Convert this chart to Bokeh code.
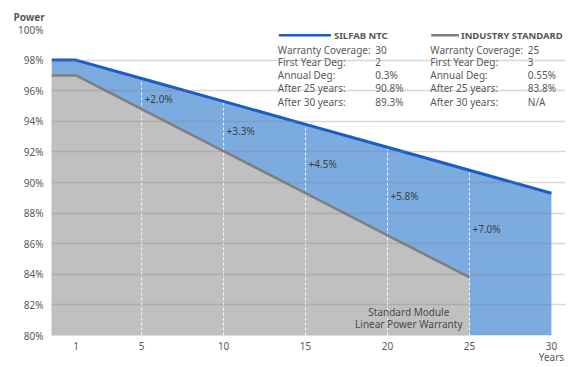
from bokeh.plotting import figure
from bokeh.models import Label, FixedTicker, Range1d
from bokeh.core.properties import value
from bokeh.embed import file_html
from bokeh.resources import INLINE

# ---- data ----
silfab_years = [0, 1, 5, 10, 15, 20, 25, 30]
silfab_power = [98.0, 98.0, 96.8, 95.3, 93.8, 92.3, 90.8, 89.3]
industry_years = [0, 1, 5, 10, 15, 20, 25]
industry_power = [97.0, 97.0, 94.8, 92.05, 89.3, 86.55, 83.8]
marker_years = [5, 10, 15, 20, 25]
gap_labels = ["+2.0%", "+3.3%", "+4.5%", "+5.8%", "+7.0%"]
x_ticks = [1, 5, 10, 15, 20, 25, 30]
x_tick_labels = ["1", "5", "10", "15", "20", "25", "30\nYears"]
y_ticks = [80, 82, 84, 86, 88, 90, 92, 94, 96, 98, 100]
y_tick_labels = ["80%", "82%", "84%", "86%", "88%", "90%", "92%", "94%", "96%", "98%", "100%"]
table_labels = ["Warranty Coverage:", "First Year Deg:", "Annual Deg:", "After 25 years:", "After 30 years:"]
silfab_values = ["30", "2", "0.3%", "90.8%", "89.3%"]
industry_values = ["25", "3", "0.55%", "83.8%", "N/A"]
series_names = ["SILFAB NTC", "INDUSTRY STANDARD"]

FONT = "Noto Sans"
TXT = "#595959"
BLUE_FILL = "#7babdf"
BLUE_LINE = "#1a5cc8"
GRAY_FILL = "#c0c0c0"
GRAY_LINE = "#7f7f7f"
X0 = -0.5
Y0 = 80

p = figure(width=573, height=367, output_backend="svg", toolbar_location=None,
           x_range=Range1d(X0, 30.86), y_range=Range1d(80, 100),
           min_border_left=51, min_border_right=8, min_border_top=29, min_border_bottom=29)
p.outline_line_color = None
p.background_fill_color = "white"

# "Power" title above the y labels
p.title.text = "Power"
p.title.align = "left"
p.title.offset = -38
p.title.text_font = FONT
p.title.text_font_size = "10px"
p.title.text_font_style = "bold"
p.title.text_color = TXT
p.title.text_line_height = 0.9
p.title.standoff = 12

# areas
sx = [X0] + silfab_years
sy = [silfab_power[0]] + silfab_power
ix = [X0] + industry_years
iy = [industry_power[0]] + industry_power
p.varea(x=sx, y1=[Y0] * len(sx), y2=sy, fill_color=BLUE_FILL)
p.varea(x=ix, y1=[Y0] * len(ix), y2=iy, fill_color=GRAY_FILL)

# dashed verticals
s_at = [silfab_power[silfab_years.index(y)] for y in marker_years]
i_at = [industry_power[industry_years.index(y)] for y in marker_years]
p.segment(x0=marker_years, y0=[Y0] * len(marker_years), x1=marker_years, y1=s_at,
          line_color="white", line_width=1, line_dash="3 2", line_alpha=0.9)

# lines
p.line(ix, iy, line_color=GRAY_LINE, line_width=2.5)
p.line(sx, sy, line_color=BLUE_LINE, line_width=3)

# gap labels
mid = [(a + b) / 2 for a, b in zip(s_at, i_at)]
p.text(x=marker_years, y=mid, text=gap_labels, x_offset=3, y_offset=5,
       text_font=value(FONT), text_font_size="10px", text_color="#3f3f3f",
       text_baseline="middle", text_align="left")

# grid
p.xgrid.grid_line_color = None
p.ygrid.ticker = FixedTicker(ticks=y_ticks)
p.ygrid.grid_line_color = "#808080"
p.ygrid.grid_line_alpha = 0.3
p.ygrid.grid_line_width = 1.5
p.ygrid.level = "overlay"

# axes
p.xaxis.ticker = FixedTicker(ticks=x_ticks)
p.xaxis.major_label_overrides = {t: l for t, l in zip(x_ticks, x_tick_labels)}
p.yaxis.ticker = FixedTicker(ticks=y_ticks)
p.yaxis.major_label_overrides = {t: l for t, l in zip(y_ticks, y_tick_labels)}
for ax in (p.xaxis[0], p.yaxis[0]):
    ax.axis_line_color = None
    ax.major_tick_line_color = None
    ax.minor_tick_line_color = None
    ax.major_tick_out = 0
    ax.major_tick_in = 0
    ax.major_label_text_font = FONT
    ax.major_label_text_font_size = "10px"
    ax.major_label_text_color = TXT
p.yaxis.major_label_standoff = 8
p.xaxis.major_label_standoff = 3
p.xaxis.major_label_text_line_height = 0.85

# legend / table
col1_x, col2_x = 13.31, 22.61
val_off = 5.95
head_y = 99.62
row_ys = [98.64, 97.86, 97.02, 96.18, 95.28]
p.segment(x0=[col1_x + 0.06, col2_x + 0.06], y0=[head_y, head_y],
          x1=[col1_x + 3.24, col2_x + 1.75], y1=[head_y, head_y],
          line_color=[BLUE_LINE, GRAY_LINE], line_width=[2.5, 2.5])
p.text(x=[col1_x + 3.42, col2_x + 1.87], y=[head_y, head_y], text=series_names,
       text_font=value(FONT), text_font_size="9.5px", text_font_style="bold",
       text_color=TXT, text_baseline="middle")
for cx, vals in ((col1_x, silfab_values), (col2_x, industry_values)):
    p.text(x=[cx] * len(table_labels), y=row_ys, text=table_labels,
           text_font=value(FONT), text_font_size="10px", text_color=TXT, text_baseline="middle")
    p.text(x=[cx + val_off] * len(vals), y=row_ys, text=vals,
           text_font=value(FONT), text_font_size="10px", text_color=TXT, text_baseline="middle")

# annotation
p.add_layout(Label(x=21.3, y=80.3, text="Standard Module\nLinear Power Warranty",
                   text_font=FONT, text_font_size="10px",
                   text_color="#4a4a4a", text_align="center", text_baseline="bottom",
                   text_line_height=0.85))

open("out.html", "w").write(file_html(p, INLINE))
